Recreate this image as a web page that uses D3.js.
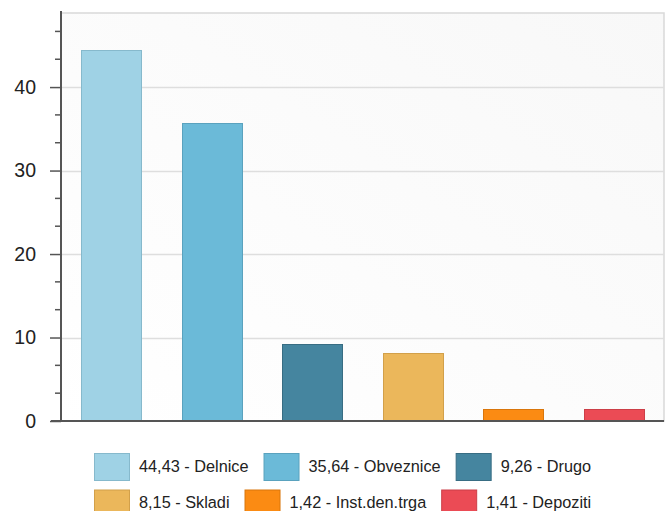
<!DOCTYPE html>
<html><head><meta charset="utf-8">
<script src="https://cdn.jsdelivr.net/npm/d3@7/dist/d3.min.js"></script>
<style>html,body{margin:0;padding:0;background:#fff;}svg{display:block;}</style>
</head><body>
<svg id="chart" width="668" height="511"></svg>
<script>
const categories = ["Delnice","Obveznice","Drugo","Skladi","Inst.den.trga","Depoziti"];
const values = [44.43, 35.64, 9.26, 8.15, 1.42, 1.41];
const valueLabels = ["44,43","35,64","9,26","8,15","1,42","1,41"];
const colors = ["#9fd2e5","#6bbad8","#45859f","#ebb75b","#fb8b13","#eb4b55"];
const strokes = ["#86b9cc","#5aa2be","#386d83","#d2a04a","#d9760c","#cc3f48"];
const yTicks = [0,10,20,30,40];

const svg = d3.select("#chart");
const L = 61, R = 664, T = 13, B = 421;
const x = d3.scaleBand().domain(categories).range([L, R]).paddingInner(0.4).paddingOuter(0.2);
const y = d3.scaleLinear().domain([0, d3.max(values) * 1.1]).range([B, T]);

const defs = svg.append("defs");
const g = defs.append("linearGradient").attr("id","bg").attr("x1","0").attr("y1","1").attr("x2","1").attr("y2","0");
g.append("stop").attr("offset","0").attr("stop-color","#ffffff");
g.append("stop").attr("offset","1").attr("stop-color","#f8f8f8");

svg.append("rect").attr("x",L).attr("y",T).attr("width",R-L).attr("height",B-T)
  .attr("fill","url(#bg)").attr("stroke","#d9d9d9").attr("stroke-width",1.5);

// grid
svg.append("g").selectAll("line").data(yTicks.filter(d=>d>0)).join("line")
  .attr("x1",L).attr("x2",R).attr("y1",d=>Math.round(y(d))+0.5).attr("y2",d=>Math.round(y(d))+0.5)
  .attr("stroke","#dedede").attr("stroke-width",1.5);

// bars
svg.append("g").selectAll("rect").data(values).join("rect")
  .attr("x",(d,i)=>Math.round(x(categories[i]))+0.5)
  .attr("y",d=>Math.round(y(d))+0.5)
  .attr("width",Math.round(x.bandwidth()))
  .attr("height",d=>B-Math.round(y(d)))
  .attr("fill",(d,i)=>colors[i])
  .attr("stroke",(d,i)=>strokes[i]).attr("stroke-width",1);

// y axis
const minorTicks = d3.range(0, y.domain()[1], 10/3).filter(v => !yTicks.some(t=>Math.abs(t-v)<0.01));
const ax = svg.append("g").attr("transform",`translate(${L},0)`)
  .call(d3.axisLeft(y).tickValues(yTicks).tickSize(11).tickPadding(14).tickFormat(d3.format("d")));
ax.select(".domain").remove();
ax.selectAll(".tick line").attr("stroke","#555").attr("stroke-width",1.5);
ax.selectAll(".tick text").attr("fill","#222").style("font-family","'Liberation Sans', Arial, sans-serif").style("font-size","19.5px");
svg.append("g").selectAll("line").data(minorTicks).join("line")
  .attr("x1",L-6).attr("x2",L).attr("y1",d=>y(d)).attr("y2",d=>y(d))
  .attr("stroke","#555").attr("stroke-width",1.5);
svg.append("line").attr("x1",L).attr("x2",L).attr("y1",T-2).attr("y2",B).attr("stroke","#555").attr("stroke-width",2);
svg.append("line").attr("x1",L-10).attr("x2",R).attr("y1",B).attr("y2",B).attr("stroke","#555").attr("stroke-width",2);

// legend
const legend = svg.append("g");
let lx = 94, ly = 453;
const perRow = 3;
categories.forEach((c,i)=>{
  if (i>0 && i%perRow===0){ lx = 94; ly += 36.5; }
  const item = legend.append("g");
  item.append("rect").attr("x",lx+0.5).attr("y",ly+0.5).attr("width",35).attr("height",27)
    .attr("fill",colors[i]).attr("stroke",strokes[i]).attr("stroke-width",1);
  const t = item.append("text").attr("x",lx+45).attr("y",ly+18.5)
    .attr("fill","#222").style("font-family","'Liberation Sans', Arial, sans-serif").style("font-size","16.3px")
    .text(valueLabels[i] + " - " + c);
  lx += 45 + t.node().getComputedTextLength() + 15;
});
</script>
</body></html>
